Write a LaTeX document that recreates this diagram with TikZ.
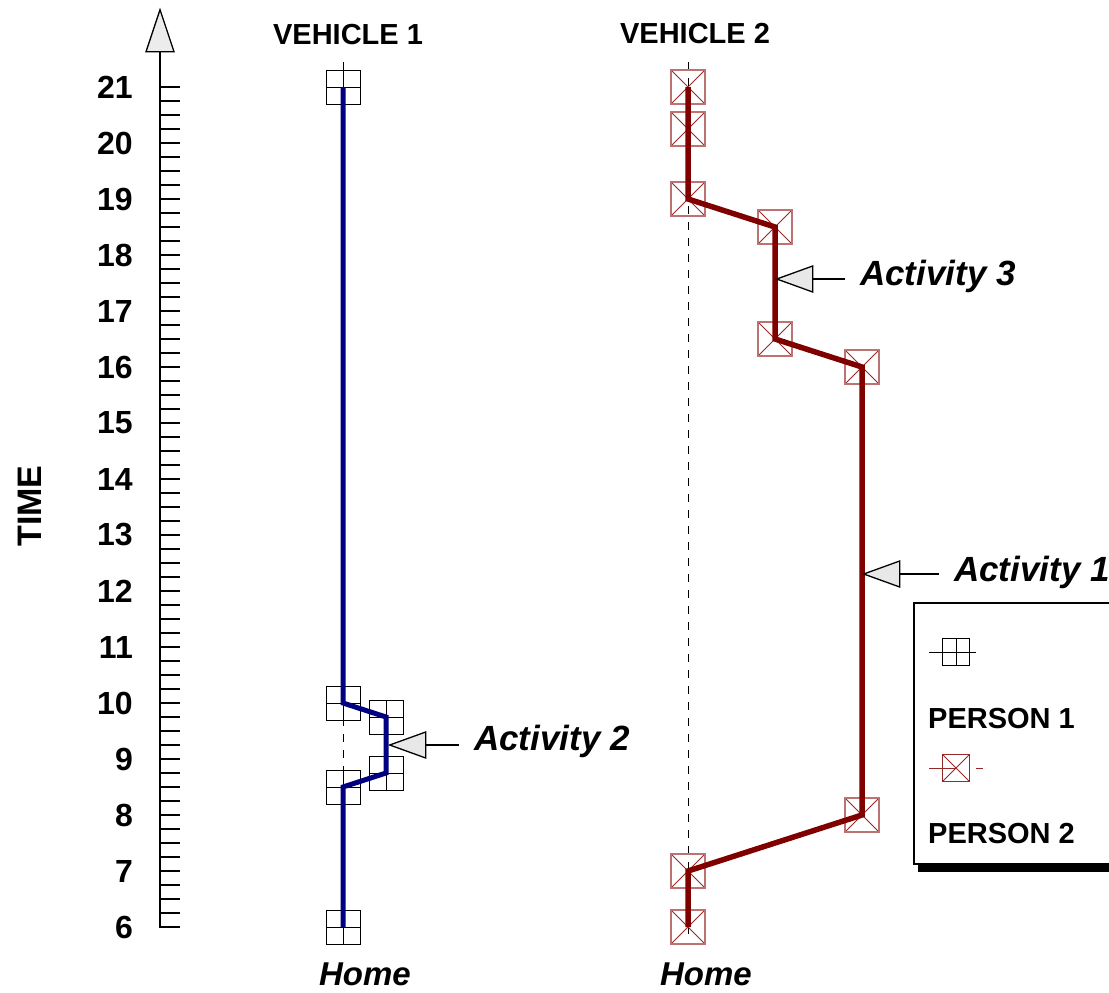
\documentclass[tikz,border=0pt]{standalone}
\usepackage{fontspec}
\setmainfont{Liberation Sans}
\usetikzlibrary{shapes.geometric}
\definecolor{vblue}{RGB}{0,0,128}
\definecolor{vred}{RGB}{128,0,0}
\definecolor{xred}{RGB}{150,40,40}
\definecolor{xredlight}{RGB}{190,115,115}
\newcommand\tY[1]{{927-(#1-6)*56}}
\tikzset{
  pone/.style={draw=black, line width=1pt, minimum size=34pt, inner sep=0pt,
    path picture={\draw[black, line width=1pt]
      (path picture bounding box.north)--(path picture bounding box.south)
      (path picture bounding box.west)--(path picture bounding box.east);}},
  ptwo/.style={draw=xredlight, line width=1.4pt, minimum size=34pt, inner sep=0pt,
    path picture={\draw[xred, line width=0.9pt]
      (path picture bounding box.north west)--(path picture bounding box.south east)
      (path picture bounding box.south west)--(path picture bounding box.north east);}},
  bluepath/.style={draw=vblue, line width=5pt},
  redpath/.style={draw=vred, line width=5.5pt},
  guide/.style={draw=black, line width=1pt, dash pattern=on 8pt off 8pt},
  tickline/.style={draw=black, line width=1.1pt},
  num/.style={font=\fontsize{32}{36}\selectfont\bfseries, inner sep=0pt, anchor=east},
  head/.style={font=\fontsize{29}{34}\selectfont\bfseries, inner sep=0pt},
  homelbl/.style={font=\fontsize{33}{38}\selectfont\bfseries\itshape, inner sep=0pt},
  actlbl/.style={font=\fontsize{35}{40}\selectfont\bfseries\itshape, inner xsep=15pt, inner ysep=0pt, anchor=west},
  calltri/.style={isosceles triangle, isosceles triangle stretches=true, shape border rotate=180,
    draw=black, line width=1.3pt, fill=gray!18, minimum height=36pt, minimum width=26pt,
    inner sep=0pt, anchor=apex},
  callline/.style={draw=black, line width=1.1pt},
}
\begin{document}
\begin{tikzpicture}[x=1pt, y=-1pt]
\useasboundingbox (0,0) rectangle (1109,993);

% ---- time axis ----
\node[isosceles triangle, isosceles triangle stretches=true, shape border rotate=90,
  draw=black, line width=1.3pt, fill=gray!15, minimum height=42pt, minimum width=28pt,
  inner sep=0pt, anchor=apex] (axhead) at (160,8) {};
\coordinate (axbot) at (160,928);
\draw[line width=1.6pt] (axbot) -- (axhead.lower side);
\foreach \i in {0,...,60} \draw[tickline] (160,{927-\i*14}) -- ++(20,0);
\foreach \t in {6,...,21} \node[num] (n\t) at (133,\tY{\t}) {\t};
\node[font=\fontsize{34}{38}\selectfont\bfseries, rotate=90, inner sep=0pt] (timelbl) at (30,506) {TIME};

% ---- headings ----
\node[head, anchor=base] (veh1) at (348,45) {VEHICLE 1};
\node[head, anchor=base] (veh2) at (695,43) {VEHICLE 2};
\node[homelbl, anchor=base] (home1) at (365,985) {Home};
\node[homelbl, anchor=base] (home2) at (706,985) {Home};

% ---- guide lines ----
\draw[guide] (343,62) -- (343,935);
\draw[guide] (688,62) -- (688,935);

% ---- vehicle 1 ----
\node[pone] (v1a) at (343,\tY{6}) {};
\node[pone] (v1b) at (343,\tY{8.5}) {};
\node[pone] (v1c) at (386,\tY{8.75}) {};
\node[pone] (v1d) at (386,\tY{9.75}) {};
\node[pone] (v1e) at (343,\tY{10}) {};
\node[pone] (v1f) at (343,\tY{21}) {};
\draw[bluepath] (v1a.center) -- (v1b.center) -- (v1c.center) -- (v1d.center)
  -- (v1e.center) -- (v1f.center);

% ---- vehicle 2 ----
\node[ptwo] (v2a) at (688,\tY{6}) {};
\node[ptwo] (v2b) at (688,\tY{7}) {};
\node[ptwo] (v2c) at (862,\tY{8}) {};
\node[ptwo] (v2d) at (862,\tY{16}) {};
\node[ptwo] (v2e) at (775,\tY{16.5}) {};
\node[ptwo] (v2f) at (775,\tY{18.5}) {};
\node[ptwo] (v2g) at (688,\tY{19}) {};
\node[ptwo] (v2h) at (688,\tY{20.25}) {};
\node[ptwo] (v2i) at (688,\tY{21}) {};
\draw[redpath] (v2a.center) -- (v2b.center) -- (v2c.center) -- (v2d.center)
  -- (v2e.center) -- (v2f.center) -- (v2g.center) -- (v2i.center);

% ---- activity callouts ----
\node[calltri] (t2) at (388,745) {};
\node[actlbl] (act2) at (459,741) {Activity 2};
\draw[callline] (t2.lower side) -- (t2.lower side -| act2.west);

\node[calltri] (t3) at (775,279) {};
\node[actlbl] (act3) at (845,276) {Activity 3};
\draw[callline] (t3.lower side) -- (t3.lower side -| act3.west);

\node[calltri] (t1) at (862,574) {};
\node[actlbl] (act1) at (939,572) {Activity 1};
\draw[callline] (t1.lower side) -- (t1.lower side -| act1.west);

% ---- legend ----
\fill[black] (918,864) rectangle (1115,872);
\draw[line width=1.3pt, fill=white] (914,603) rectangle (1115,864);
\coordinate (l1l) at (929,652);
\coordinate (l1r) at (976,652);
\draw[line width=1pt] (l1l) -- (l1r);
\node[pone, minimum size=27pt, line width=1.3pt] (leg1) at (956,652) {};
\node[head, anchor=base west] (p1) at (928,728) {PERSON 1};
\coordinate (l2l) at (929,768);
\coordinate (l2r) at (976,768);
\coordinate (l2e) at (983,768);
\draw[xred, line width=1pt] (l2l) -- (956,768);
\draw[xred, line width=1pt] (l2r) -- (l2e);
\node[ptwo, minimum size=27pt, draw=xred, line width=1.3pt] (leg2) at (956,768) {};
\node[head, anchor=base west] (p2) at (928,843) {PERSON 2};
\end{tikzpicture}
\end{document}
